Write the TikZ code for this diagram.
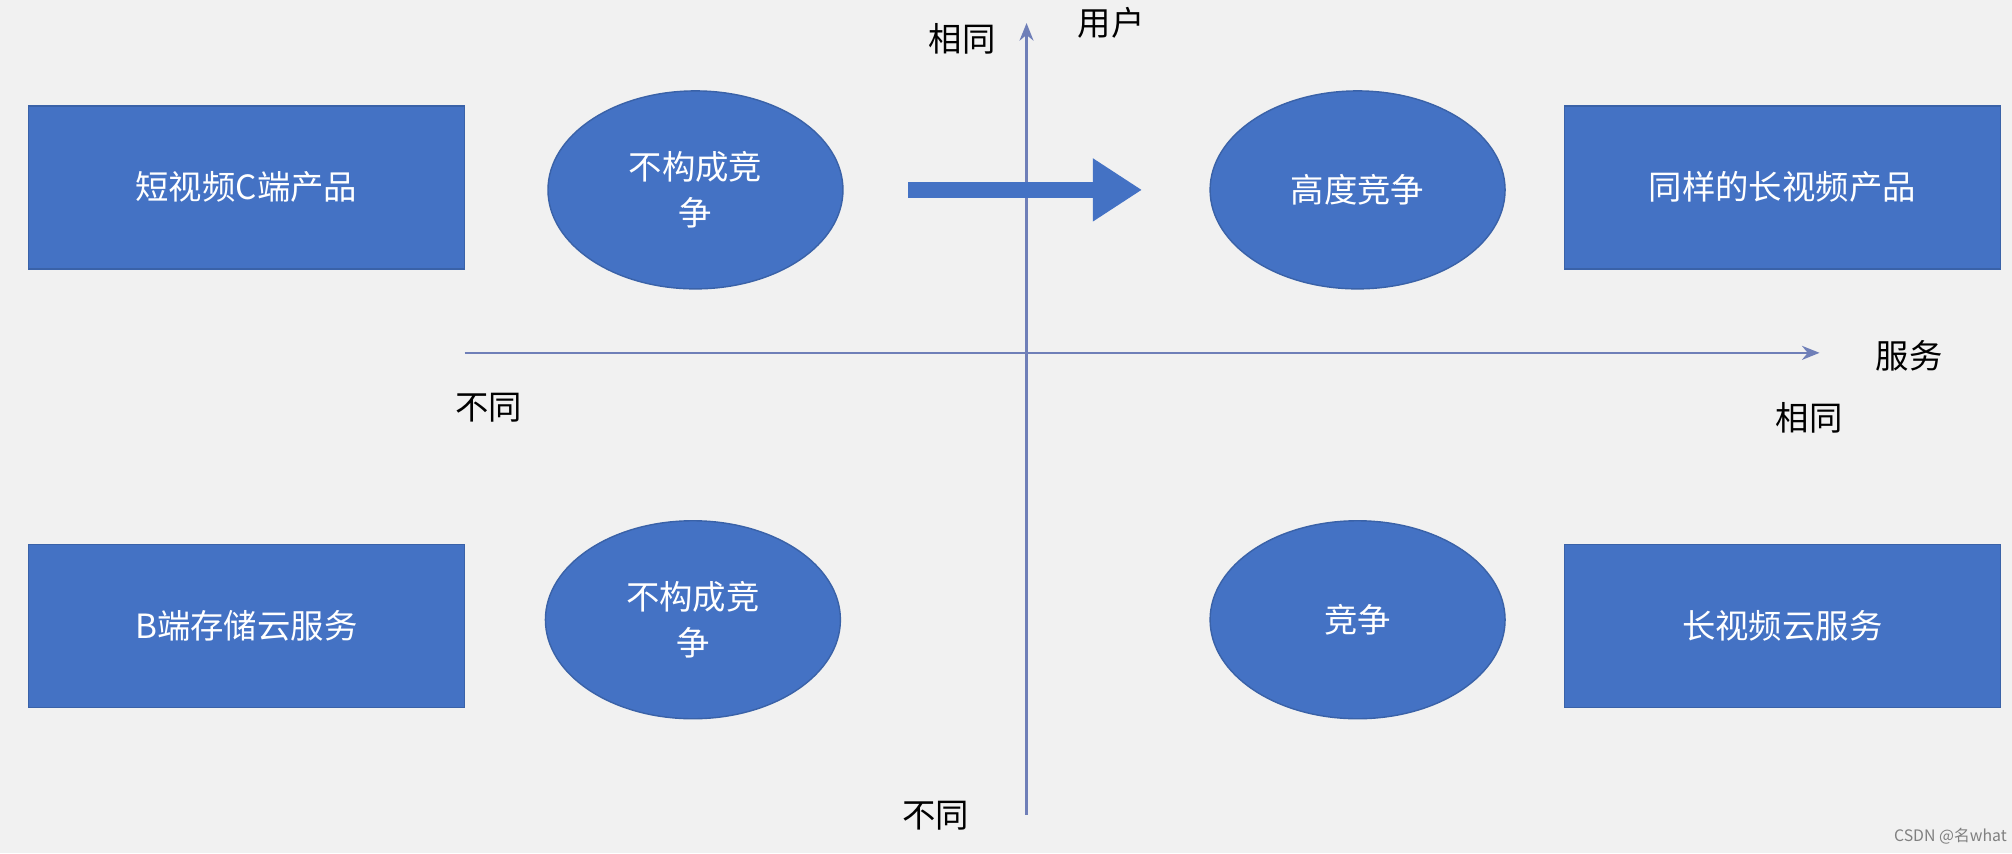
\documentclass[tikz,border=0pt]{standalone}
\usepackage{fontspec}
\setmainfont{Noto Sans CJK SC}
\usetikzlibrary{shapes.geometric,arrows.meta}
\definecolor{bfill}{HTML}{4472C4}
\definecolor{bedge}{HTML}{3A62A8}
\definecolor{axis}{HTML}{6F7FB8}
\definecolor{bg}{HTML}{F1F1F1}
\begin{document}
\begin{tikzpicture}[x=0.01283cm,y=-0.01283cm,
  box/.style={draw=bedge,fill=bfill,text=white,minimum width=4.36cm,minimum height=1.63cm,inner sep=0pt,font=\fontsize{9.5pt}{12pt}\selectfont},
  ell/.style={ellipse,draw=bedge,fill=bfill,text=white,minimum width=2.95cm,minimum height=1.98cm,inner sep=0pt,align=center,font=\fontsize{9.5pt}{13pt}\selectfont},
  lab/.style={font=\fontsize{9.5pt}{12pt}\selectfont,text=black},
  ax/.style={draw=axis,line width=0.6pt,-{Stealth[length=5pt,width=4pt]}}]
\fill[bg] (0,0) rectangle (1568,665);
\useasboundingbox (0,0) rectangle (1568,665);
\coordinate (vb) at (800,635); \coordinate (vt) at (800,18);
\coordinate (hl) at (362,275); \coordinate (hr) at (1418,275);
\draw[ax] (vb) -- (vt);
\draw[ax] (hl) -- (hr);
\node[box] (r1) at (192,146) {短视频C端产品};
\node[ell] (e1) at (542,148) {不构成竞\\争};
\node[ell] (e2) at (1058,148) {高度竞争};
\node[box] (r2) at (1389,146) {同样的长视频产品};
\node[box] (r3) at (192,488) {B端存储云服务};
\node[ell] (e3) at (540,483) {不构成竞\\争};
\node[ell] (e4) at (1058,483) {竞争};
\node[box] (r4) at (1389,488) {长视频云服务};
\coordinate (a1) at (708,148); \coordinate (a2) at (890,148);
\draw[bfill,line width=4.6pt,-{Triangle[length=14pt,width=17pt]}] (a1) -- (a2);
\node[lab] (t1) at (750,30) {相同};
\node[lab] (t2) at (866,18) {用户};
\node[lab] (t3) at (729,636) {不同};
\node[lab] (t4) at (1488,277) {服务};
\node[lab] (t5) at (381,318) {不同};
\node[lab] (t6) at (1410,326) {相同};
\node[font=\fontsize{4.5pt}{5pt}\selectfont,text=gray] (wm) at (1520,652) {CSDN @名what};
\end{tikzpicture}
\end{document}
